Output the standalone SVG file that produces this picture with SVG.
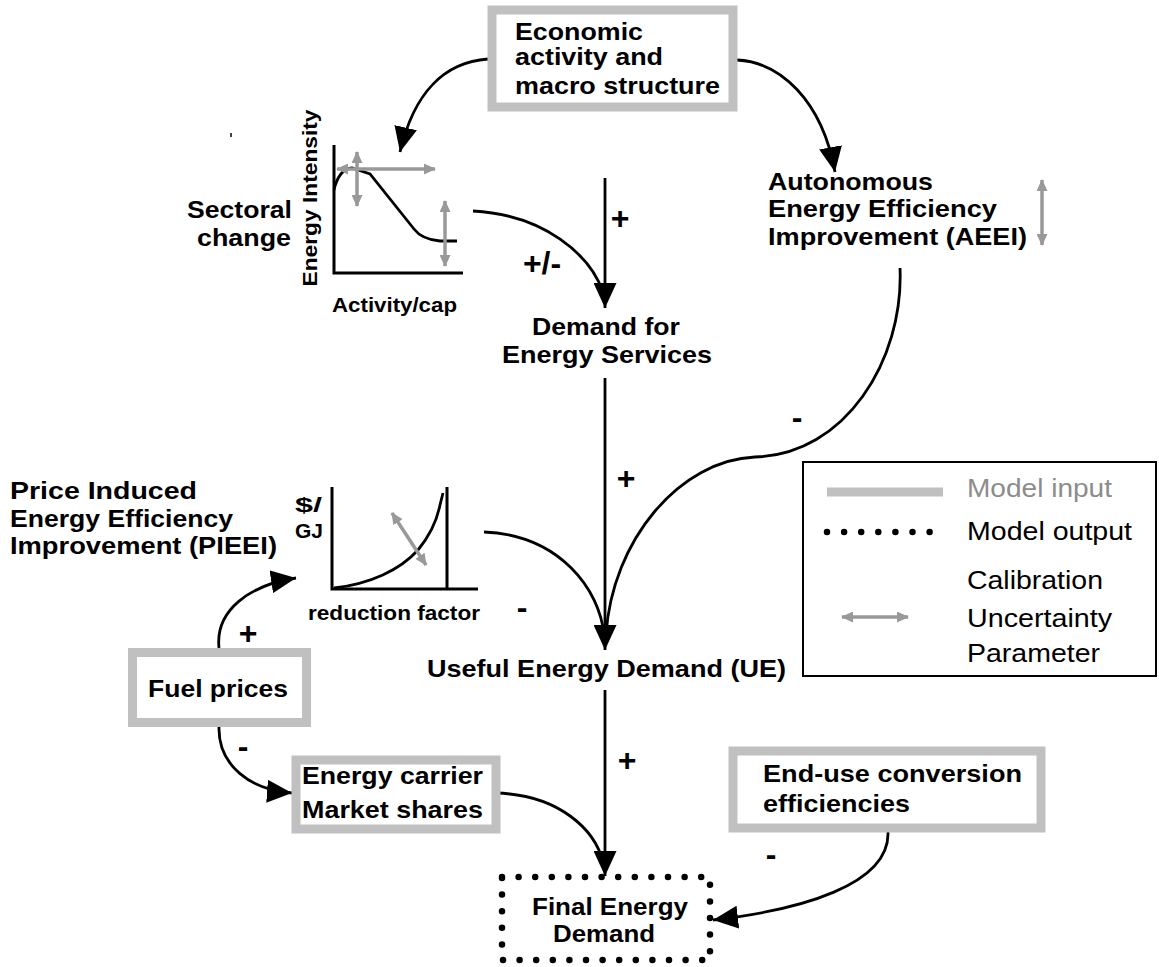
<svg xmlns="http://www.w3.org/2000/svg" width="1159" height="967" viewBox="0 0 1159 967">
<defs>
<style>
text{font-family:"Liberation Sans",Arial,sans-serif;fill:#000}
.b{font-weight:bold;font-size:24px}
.s{font-weight:bold;font-size:21px}
.sg{font-weight:bold;font-size:32px}
.lg{font-size:25px}
.box{fill:#fff;stroke:#c0c0c0;stroke-width:9}
.ln{fill:none;stroke:#000;stroke-width:2.8}
.ax{fill:none;stroke:#000;stroke-width:3}
.ga{fill:none;stroke:#999;stroke-width:3.5;marker-start:url(#ga);marker-end:url(#ga)}
</style>
<marker id="ah" markerUnits="userSpaceOnUse" markerWidth="25" markerHeight="23" viewBox="0 0 25 23" refX="25" refY="11.5" orient="auto">
<path d="M0,0 L25,11.5 L0,23 z" fill="#000"/>
</marker>
<marker id="ga" markerUnits="userSpaceOnUse" markerWidth="12" markerHeight="11" viewBox="0 0 12 11" refX="11" refY="5.5" orient="auto-start-reverse">
<path d="M0,0 L12,5.5 L0,11 z" fill="#999"/>
</marker>
</defs>
<rect width="1159" height="967" fill="#fff"/>

<g id="connectors">
<path class="ln" d="M488,59 C445,62 414,92 400,152" marker-end="url(#ah)"/>
<path class="ln" d="M737,60 C780,62 822,100 835,172" marker-end="url(#ah)"/>
<path class="ln" d="M473,211 C545,215 590,255 603,292"/>
<path class="ln" d="M605,178 L605,308" marker-end="url(#ah)"/>
<path class="ln" d="M605,378 L605,650" marker-end="url(#ah)"/>
<path class="ln" d="M900,268 C904,360 845,455 755,457 C680,460 612,540 606,635"/>
<path class="ln" d="M484,532 C560,535 600,590 604,635"/>
<path class="ln" d="M605,690 L605,876" marker-end="url(#ah)"/>
<path class="ln" d="M496,793 C560,795 595,830 603,862"/>
<path class="ln" d="M219,648 C215,610 250,585 296,578" marker-end="url(#ah)"/>
<path class="ln" d="M219,727 C218,765 250,790 292,793" marker-end="url(#ah)"/>
<path class="ln" d="M888,832 C890,885 800,910 713,920" marker-end="url(#ah)"/>
<text class="sg" x="620" y="229" text-anchor="middle">+</text>
<text class="sg" x="542" y="274" text-anchor="middle">+/-</text>
<text class="sg" x="626" y="489" text-anchor="middle">+</text>
<text class="sg" x="797" y="428" text-anchor="middle">-</text>
<text class="sg" x="522" y="618" text-anchor="middle">-</text>
<text class="sg" x="248" y="644" text-anchor="middle">+</text>
<text class="sg" x="243" y="757" text-anchor="middle">-</text>
<text class="sg" x="627" y="771" text-anchor="middle">+</text>
<text class="sg" x="771" y="865" text-anchor="middle">-</text>
</g>

<g id="economic">
<rect class="box" x="492" y="10" width="241" height="97"/>
<text class="b" x="515" y="40" textLength="128" lengthAdjust="spacingAndGlyphs">Economic</text>
<text class="b" x="515" y="65" textLength="148" lengthAdjust="spacingAndGlyphs">activity and</text>
<text class="b" x="515" y="94" textLength="205" lengthAdjust="spacingAndGlyphs">macro structure</text>
</g>

<g id="sectoral">
<line x1="231" y1="133" x2="231" y2="137" stroke="#000" stroke-width="1.5"/>
<text class="b" x="292" y="218" text-anchor="end" textLength="105" lengthAdjust="spacingAndGlyphs">Sectoral</text>
<text class="b" x="291" y="246" text-anchor="end" textLength="94" lengthAdjust="spacingAndGlyphs">change</text>
<text class="s" transform="translate(317,198) rotate(-90)" text-anchor="middle" textLength="177" lengthAdjust="spacingAndGlyphs">Energy Intensity</text>
<path class="ax" d="M334,145 L334,273 L463,273"/>
<path class="ln" d="M334,190 C337,176 344,168 352,168 L370,174 L414,229 C420,237 428,240 440,241 L457,241"/>
<line class="ga" x1="337" y1="169" x2="435" y2="169"/>
<line class="ga" x1="357" y1="152" x2="357" y2="206"/>
<line class="ga" x1="445" y1="201" x2="445" y2="266"/>
<text class="s" x="332" y="312" textLength="125" lengthAdjust="spacingAndGlyphs">Activity/cap</text>
</g>

<g id="demand-services">
<text class="b" x="606" y="335" text-anchor="middle" textLength="148" lengthAdjust="spacingAndGlyphs">Demand for</text>
<text class="b" x="607" y="363" text-anchor="middle" textLength="210" lengthAdjust="spacingAndGlyphs">Energy Services</text>
</g>

<g id="aeei">
<text class="b" x="768" y="190" textLength="165" lengthAdjust="spacingAndGlyphs">Autonomous</text>
<text class="b" x="768" y="217" textLength="229" lengthAdjust="spacingAndGlyphs">Energy Efficiency</text>
<text class="b" x="768" y="245" textLength="259" lengthAdjust="spacingAndGlyphs">Improvement (AEEI)</text>
<line class="ga" x1="1042" y1="180" x2="1042" y2="245"/>
</g>

<g id="pieei">
<text class="b" x="10" y="499" textLength="187" lengthAdjust="spacingAndGlyphs">Price Induced</text>
<text class="b" x="10" y="527" textLength="223" lengthAdjust="spacingAndGlyphs">Energy Efficiency</text>
<text class="b" x="10" y="554" textLength="267" lengthAdjust="spacingAndGlyphs">Improvement (PIEEI)</text>
<text class="s" x="295" y="512" textLength="27" lengthAdjust="spacingAndGlyphs">$/</text>
<text class="s" x="295" y="538" textLength="28" lengthAdjust="spacingAndGlyphs">GJ</text>
<path class="ax" d="M332,487 L332,589 L478,589 M447,487 L447,589"/>
<path class="ln" d="M334,588 C370,584 400,570 418,550 C432,533 438,515 440,505 L443,493"/>
<line class="ga" x1="392" y1="513" x2="426" y2="565"/>
<text class="s" x="308" y="620" textLength="172" lengthAdjust="spacingAndGlyphs">reduction factor</text>
</g>

<g id="useful-energy">
<text class="b" x="427" y="677" textLength="359" lengthAdjust="spacingAndGlyphs">Useful Energy Demand (UE)</text>
</g>

<g id="fuel-prices">
<rect class="box" x="132.5" y="652.5" width="174" height="70"/>
<text class="b" x="148" y="697" textLength="140" lengthAdjust="spacingAndGlyphs">Fuel prices</text>
</g>

<g id="energy-carrier">
<rect class="box" x="296" y="760" width="200" height="69"/>
<text class="b" x="302" y="784" textLength="181" lengthAdjust="spacingAndGlyphs">Energy carrier</text>
<text class="b" x="302" y="818" textLength="181" lengthAdjust="spacingAndGlyphs">Market shares</text>
</g>

<g id="end-use">
<rect class="box" x="733" y="751" width="308" height="77"/>
<text class="b" x="763" y="782" textLength="259" lengthAdjust="spacingAndGlyphs">End-use conversion</text>
<text class="b" x="763" y="812" textLength="147" lengthAdjust="spacingAndGlyphs">efficiencies</text>
</g>

<g id="final-energy">
<rect x="502" y="877" width="208" height="83" fill="none" stroke="#000" stroke-width="6.5" stroke-linecap="round" stroke-dasharray="0 16.6"/>
<text class="b" x="610" y="915" text-anchor="middle" textLength="156" lengthAdjust="spacingAndGlyphs">Final Energy</text>
<text class="b" x="604" y="942" text-anchor="middle" textLength="102" lengthAdjust="spacingAndGlyphs">Demand</text>
</g>

<g id="legend">
<rect x="803" y="462" width="353" height="214" fill="none" stroke="#000" stroke-width="2"/>
<line x1="827" y1="492" x2="943" y2="492" stroke="#c0c0c0" stroke-width="9"/>
<text class="lg" x="967" y="497" style="fill:#8c8c8c" textLength="145" lengthAdjust="spacingAndGlyphs">Model input</text>
<line x1="827" y1="532" x2="930" y2="532" stroke="#000" stroke-width="6.5" stroke-linecap="round" stroke-dasharray="0 17.1"/>
<text class="lg" x="967" y="540" textLength="165" lengthAdjust="spacingAndGlyphs">Model output</text>
<text class="lg" x="967" y="589" textLength="136" lengthAdjust="spacingAndGlyphs">Calibration</text>
<text class="lg" x="967" y="627" textLength="145" lengthAdjust="spacingAndGlyphs">Uncertainty</text>
<text class="lg" x="967" y="662" textLength="133" lengthAdjust="spacingAndGlyphs">Parameter</text>
<line class="ga" x1="842" y1="617" x2="908" y2="617"/>
</g>
</svg>
